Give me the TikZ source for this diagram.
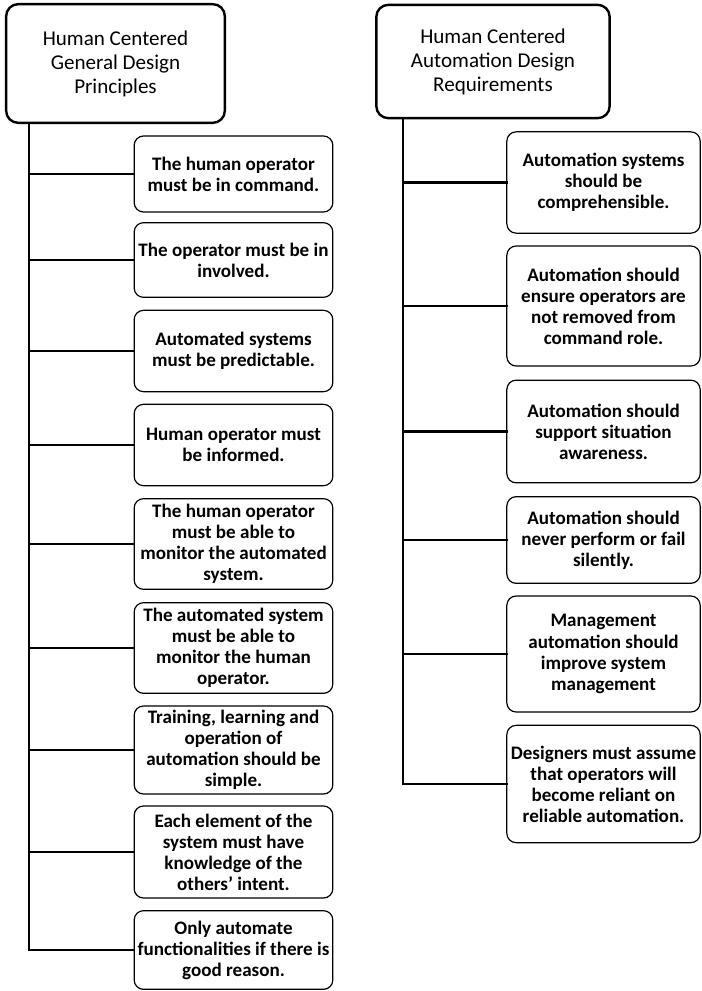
\documentclass[tikz,border=0pt]{standalone}
\usepackage{fontspec}
\setmainfont{Carlito}
\begin{document}
\begin{tikzpicture}[x=0.75pt,y=-0.75pt,
  headbox/.style={draw=black,line width=1.8pt,rounded corners=9pt,fill=white,
    align=center,inner sep=0pt,font=\fontsize{15.8}{18}\selectfont},
  itembox/.style={draw=black,line width=0.9pt,rounded corners=7pt,fill=white,
    align=center,inner sep=0pt,font=\fontsize{14.3}{15.8}\selectfont\bfseries},
  link/.style={draw=black,line width=2.2pt,line cap=rect}]
\useasboundingbox (0,0) rectangle (702,991);

% ---- left column: general design principles ----
\node[headbox,minimum width=164pt,minimum height=89pt] (hL) at (115.5,63.5)
  {Human Centered\\General Design\\Principles};
\coordinate (tL) at (29,123);

\node[itembox,minimum width=149pt,minimum height=57pt] (l1) at (233.5,174)
  {The human operator\\must be in command.};
\node[itembox,minimum width=149pt,minimum height=56pt] (l2) at (233.5,260)
  {The operator must be in\\involved.};
\node[itembox,minimum width=149pt,minimum height=61pt] (l3) at (233.5,351)
  {Automated systems\\must be predictable.};
\node[itembox,minimum width=149pt,minimum height=61pt] (l4) at (233.5,445)
  {Human operator must\\be informed.};
\node[itembox,minimum width=149pt,minimum height=68pt] (l5) at (233.5,544)
  {The human operator\\must be able to\\monitor the automated\\system.};
\node[itembox,minimum width=149pt,minimum height=68pt] (l6) at (233.5,648)
  {The automated system\\must be able to\\monitor the human\\operator.};
\node[itembox,minimum width=149pt,minimum height=66pt] (l7) at (233.5,750)
  {Training, learning and\\operation of\\automation should be\\simple.};
\node[itembox,minimum width=149pt,minimum height=69pt] (l8) at (233.5,852)
  {Each element of the\\system must have\\knowledge of the\\others' intent.};
\node[itembox,minimum width=149pt,minimum height=59pt] (l9) at (233.5,950)
  {Only automate\\functionalities if there is\\good reason.};

\draw[link] (tL) |- (l9.west);
\foreach \n in {l1,l2,l3,l4,l5,l6,l7,l8}
  \draw[link] (tL |- \n.west) -- (\n.west);

% ---- right column: automation design requirements ----
\node[headbox,minimum width=175pt,minimum height=85pt] (hR) at (493,61.5)
  {Human Centered\\Automation Design\\Requirements};
\coordinate (tR) at (403,118);

\node[itembox,minimum width=145pt,minimum height=76pt] (r1) at (603.5,182.5)
  {Automation systems\\should be\\comprehensible.};
\node[itembox,minimum width=145pt,minimum height=90pt] (r2) at (603.5,306)
  {Automation should\\ensure operators are\\not removed from\\command role.};
\node[itembox,minimum width=145pt,minimum height=77pt] (r3) at (603.5,431.5)
  {Automation should\\support situation\\awareness.};
\node[itembox,minimum width=145pt,minimum height=65pt] (r4) at (603.5,540)
  {Automation should\\never perform or fail\\silently.};
\node[itembox,minimum width=145pt,minimum height=87pt] (r5) at (603.5,654)
  {Management\\automation should\\improve system\\management};
\node[itembox,minimum width=145pt,minimum height=88pt] (r6) at (603.5,784)
  {Designers must assume\\that operators will\\become reliant on\\reliable automation.};

\draw[link] (tR) |- (r6.west);
\foreach \n in {r1,r2,r3,r4,r5}
  \draw[link] (tR |- \n.west) -- (\n.west);
\end{tikzpicture}
\end{document}
